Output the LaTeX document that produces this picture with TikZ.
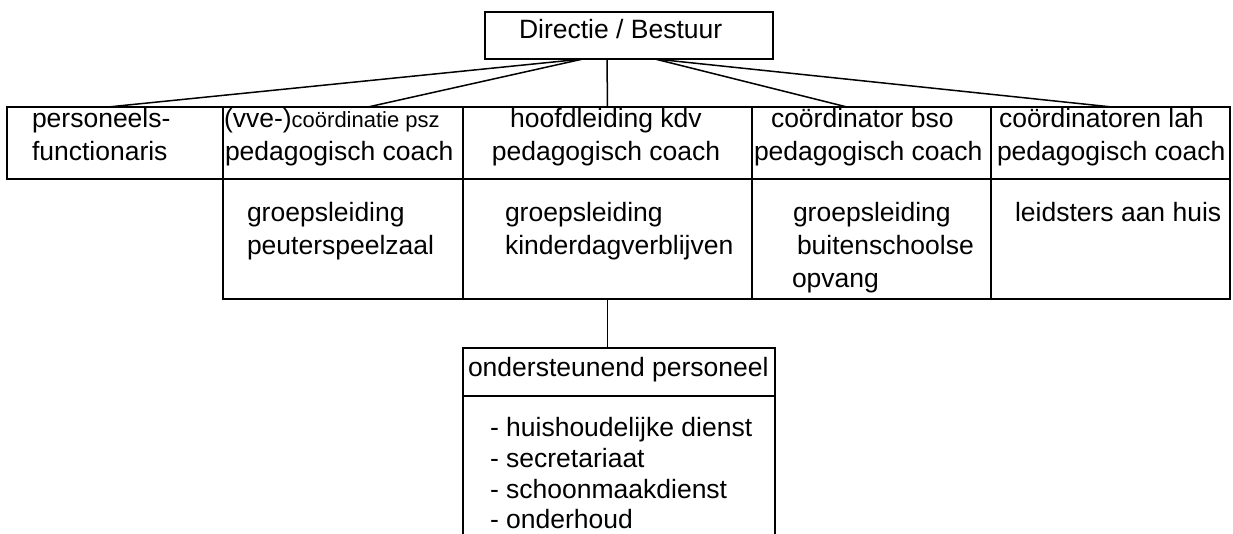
\documentclass[tikz,border=0pt]{standalone}
\usepackage{fontspec}
\setmainfont{Liberation Sans}
\usetikzlibrary{calc}
\begin{document}
\begin{tikzpicture}[x=1pt,y=-1pt,
  box/.style={draw=black,line width=1.5pt,inner sep=0pt,outer sep=0pt,minimum height=#1},
  box/.default=72pt,
  txt/.style={inner sep=0pt,outer sep=0pt,anchor=base west,font=\fontsize{26.5}{30}\selectfont},
  small/.style={font=\fontsize{22}{26}\selectfont},
  link/.style={draw=black,line width=1.5pt}]
\useasboundingbox (0,0) rectangle (1233,534);
% top
\node[box=47pt,minimum width=288pt] (top) at (629,35.5) {};
\node[txt] (ttop) at (519,39) {Directie / Bestuur};
% row 1
\node[box,minimum width=216pt] (pers) at (115,143) {};
\node[box,minimum width=240pt] (vve) at (343,143) {};
\node[box,minimum width=289pt] (hoofd) at (607.5,143) {};
\node[box,minimum width=239pt] (bso) at (871.5,143) {};
\node[box,minimum width=239pt] (lah) at (1110.5,143) {};
% row 2
\node[box=120pt,minimum width=240pt] (vve2) at (343,239) {};
\node[box=120pt,minimum width=289pt] (hoofd2) at (607.5,239) {};
\node[box=120pt,minimum width=239pt] (bso2) at (871.5,239) {};
\node[box=120pt,minimum width=239pt] (lah2) at (1110.5,239) {};
% support
\node[box=48pt,minimum width=312pt] (ond) at (619,372) {};
\coordinate (ondbl) at (463,534);
\coordinate (ondbr) at (775,534);
\draw[link] (ond.south west) -- (ondbl);
\draw[link] (ond.south east) -- (ondbr);
% connectors
\draw[link] ([xshift=-46pt]top.south) -- ([xshift=-7pt]pers.north);
\draw[link] ([xshift=-46pt]top.south) -- ([xshift=25pt]vve.north);
\draw[link] ([xshift=-22pt]top.south) -- (hoofd.north);
\draw[link] ([xshift=26pt]top.south) -- ([xshift=-24.5pt]bso.north);
\draw[link] ([xshift=26pt]top.south) -- ([xshift=1.5pt]lah.north);
\draw[link] (hoofd2.south) -- ([xshift=-11.5pt]ond.north);
% texts row 1
\node[txt] (p1) at (32,128) {personeels-};
\node[txt] (p2) at (32,161) {functionaris};
\node[txt] (v1) at (224,128) {(vve-){\small\fontsize{22}{26}\selectfont coördinatie psz}};
\node[txt] (v2) at (225,161) {pedagogisch coach};
\node[txt,anchor=base] (h1) at (606,128) {hoofdleiding kdv};
\node[txt,anchor=base] (h2) at (606,161) {pedagogisch coach};
\node[txt] (b1) at (771,128) {coördinator bso};
\node[txt] (b2) at (754,161) {pedagogisch coach};
\node[txt] (l1) at (999,128) {coördinatoren lah};
\node[txt] (l2) at (997,161) {pedagogisch coach};
% texts row 2
\node[txt] (g1) at (247,222) {groepsleiding};
\node[txt] (g2) at (247,255) {peuterspeelzaal};
\node[txt] (k1) at (505,222) {groepsleiding};
\node[txt] (k2) at (505,255) {kinderdagverblijven};
\node[txt] (s1) at (793,222) {groepsleiding};
\node[txt] (s2) at (797,255) {buitenschoolse};
\node[txt] (s3) at (792,288) {opvang};
\node[txt] (a1) at (1015,222) {leidsters aan huis};
% support texts
\node[txt] (o0) at (468,376) {ondersteunend personeel};
\node[txt] (o1) at (490,436) {- huishoudelijke dienst};
\node[txt] (o2) at (490,467) {- secretariaat};
\node[txt] (o3) at (490,498) {- schoonmaakdienst};
\node[txt] (o4) at (490,528) {- onderhoud};
\end{tikzpicture}
\end{document}
